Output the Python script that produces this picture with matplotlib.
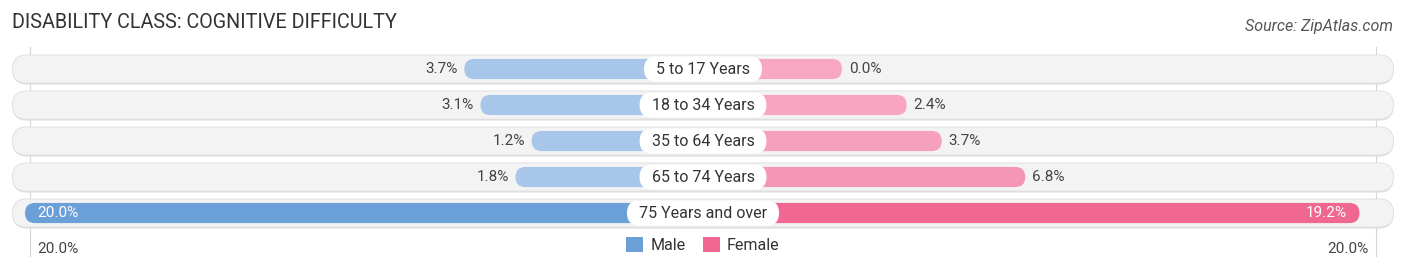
import matplotlib.pyplot as plt
from matplotlib.patches import FancyBboxPatch, Patch

plt.rcParams['font.family'] = ['Roboto', 'DejaVu Sans']

# data
categories = ["5 to 17 Years", "18 to 34 Years", "35 to 64 Years",
              "65 to 74 Years", "75 Years and over"]
male = [3.7, 3.1, 1.2, 1.8, 20.0]
female = [0.0, 2.4, 3.7, 6.8, 19.2]
male_colors = ["#a7c6ea", "#a7c6ea", "#a7c6ea", "#a7c6ea", "#6a9fd8"]
female_colors = ["#f7a7c1", "#f7a5c0", "#f6a0bd", "#f596b6", "#f06892"]
axis_max = 20.0

# layout, in data units (1 unit = 1 percentage point)
PX = 26.95          # pixels per percentage point
OFFSET = 139 / PX   # half-width reserved for the centre label
YPX = 36.0          # pixels per row
ASPECT = PX / YPX

fig = plt.figure(figsize=(14.06, 2.70), dpi=100)
ax = fig.add_axes([0, 0, 1, 1])
half = 703 / PX
ax.set_xlim(-half, half)
ax.set_ylim(5.583, -1.917)
ax.axis("off")


def pill(x0, x1, y, h, r, **kw):
    p = FancyBboxPatch((x0, y - h / 2), x1 - x0, h,
                       boxstyle=f"round,pad=0,rounding_size={r}",
                       mutation_aspect=ASPECT, **kw)
    ax.add_patch(p)
    return p


# thin guide lines at the axis limits
edge = axis_max + OFFSET - 0.18
for xv in (-edge, edge):
    ax.plot([xv, xv], [-0.6, 5.2], color="#d5d5d5", lw=0.8, zorder=0)

fig.canvas.draw()
renderer = fig.canvas.get_renderer()

track_half = 690.5 / PX
for i, cat in enumerate(categories):
    # background track with a faint shadow
    pill(-track_half, track_half, i + 0.03, 0.81, 14.5 / PX,
         fc="#e0e0e0", ec="none", zorder=1)
    pill(-track_half, track_half, i, 0.78, 14 / PX,
         fc="#f3f3f3", ec="#dedede", lw=0.6, zorder=1)

    m = OFFSET + male[i]
    f = OFFSET + female[i]
    pill(-m, 0, i, 0.56, 10 / PX, fc=male_colors[i], ec="none", zorder=2)
    pill(0, f, i, 0.56, 10 / PX, fc=female_colors[i], ec="none", zorder=2)

    if male[i] > 10:
        ax.text(-m + 0.45, i, f"{male[i]:.1f}%", ha="left", va="center",
                fontsize=11, color="white", zorder=4)
    else:
        ax.text(-m - 0.25, i, f"{male[i]:.1f}%", ha="right", va="center",
                fontsize=11, color="#444444", zorder=4)
    if female[i] > 10:
        ax.text(f - 0.45, i, f"{female[i]:.1f}%", ha="right", va="center",
                fontsize=11, color="white", zorder=4)
    else:
        ax.text(f + 0.25, i, f"{female[i]:.1f}%", ha="left", va="center",
                fontsize=11, color="#444444", zorder=4)

    t = ax.text(0, i, cat, ha="center", va="center", fontsize=11.5,
                color="#333333", zorder=5)
    w = t.get_window_extent(renderer).width
    hw = (w / 2 + 12) / PX
    pill(-hw, hw, i, 25 / YPX, 12.5 / PX, fc="white", ec="none", zorder=4)

# bottom axis labels
ybot = 5.0
ax.text(-axis_max - OFFSET + 0.45, ybot, f"{axis_max:.1f}%", ha="left",
        va="center", fontsize=11, color="#444444")
ax.text(axis_max + OFFSET - 0.45, ybot, f"{axis_max:.1f}%", ha="right",
        va="center", fontsize=11, color="#444444")

handles = [Patch(fc=male_colors[-1], ec="none", label="Male"),
           Patch(fc=female_colors[-1], ec="none", label="Female")]
ax.legend(handles=handles, loc="center", bbox_to_anchor=(0.5, 1 - 245 / 270),
          ncol=2, frameon=False, fontsize=11.5, handlelength=1.05,
          handleheight=1.1, handletextpad=0.45, columnspacing=1.1,
          labelcolor="#333333")

fig.text(12 / 1406, 1 - 22 / 270, "DISABILITY CLASS: COGNITIVE DIFFICULTY",
         ha="left", va="center", fontsize=14.2, color="#333333")
fig.text(1393 / 1406, 1 - 26 / 270, "Source: ZipAtlas.com", ha="right",
         va="center", fontsize=11.5, style="italic", color="#555555")

fig.savefig("out.png", dpi=100)
